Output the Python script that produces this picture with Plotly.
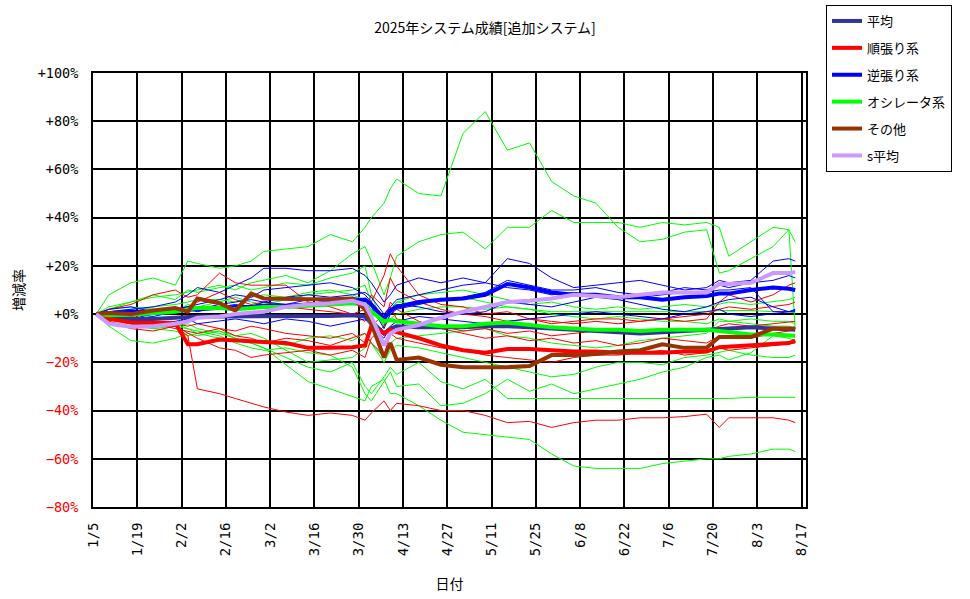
import plotly.graph_objects as go

# ---- dates (x values) ----
dates = ["2025-01-06", "2025-01-10", "2025-01-17", "2025-01-24", "2025-01-31",
         "2025-02-04", "2025-02-07", "2025-02-14", "2025-02-19", "2025-02-24",
         "2025-02-28", "2025-03-07", "2025-03-14", "2025-03-21", "2025-03-28",
         "2025-04-01", "2025-04-03", "2025-04-07", "2025-04-09", "2025-04-11",
         "2025-04-18", "2025-04-25", "2025-05-02", "2025-05-09", "2025-05-16",
         "2025-05-23", "2025-05-30", "2025-06-06", "2025-06-13", "2025-06-20",
         "2025-06-27", "2025-07-04", "2025-07-11", "2025-07-18", "2025-07-22",
         "2025-07-25", "2025-08-01", "2025-08-08", "2025-08-13", "2025-08-15"]

# ---- thick (group) series, % ----
avg_all = [0, -1.5, -2, -2, -1.5, -1, -1, -1, -1, -1,
           -1, -1.2, -1, -0.8, -0.5, -1, -3, -8, -6, -5,
           -5.5, -5.5, -5.5, -5, -5, -5.5, -6, -6.5, -7, -7.5,
           -8, -7.5, -7, -6.5, -6, -6, -5.5, -6, -6.5, -6.5]
trend = [0, -2, -3.5, -3.5, -3.7, -12.5, -12.5, -10.5, -11, -11.5,
         -11.6, -12, -14, -14, -13.7, -13, -5, -8, -6.5, -7.5,
         -10, -13, -15, -16, -14.5, -14.5, -15, -15.5, -15.5, -16,
         -16, -16, -15.5, -15.5, -13.7, -13.5, -13, -12.5, -12, -11]
contra = [0, 0.5, 1, 1, 1.5, 2, 2, 2.5, 3, 3,
          3.5, 3.5, 4, 4.5, 5.5, 6, 4, -2, 1.5, 3,
          5, 6, 6.5, 8, 12.5, 11, 9, 8, 8, 7,
          7, 6, 7, 7.5, 8.5, 8.5, 10, 11, 10.5, 10]
osc = [0, -0.5, -0.3, 0.5, 1, 2, 2.5, 2.5, 2, 2.5,
       3, 3, 3.5, 4, 4.5, 4, 1, -3, -2.5, -3,
       -4, -5, -5, -4, -3.5, -4.5, -5.5, -6, -6.5, -6.5,
       -7, -6.5, -6.5, -6.5, -7, -7.5, -8.5, -8.5, -9, -9]
other = [0, 0.5, 0, 1.5, 2.5, 1, 6.5, 4.5, 1.5, 8.5,
         6.5, 6.2, 6.2, 6.2, 6.5, 2, -4, -18, -12, -19,
         -18, -21, -22, -22, -22, -21.5, -17, -17, -16.5, -15.5,
         -15, -12.5, -14, -14, -9.5, -9.5, -9.5, -6, -6, -6]
savg = [0, -4, -5.2, -5, -4, -3, -1.5, -1, 0, 0.5,
        1, 3, 4, 4.5, 5.5, 4, -1, -13, -8, -6.5,
        -4.5, -1.5, 1, 3, 5, 5.5, 6.5, 8, 7.5, 7,
        8, 9, 9, 9, 12.5, 12.5, 13, 17, 17, 17.5]

# ---- thin (individual system) series, % ----
g1 = [0, 8, 13, 15, 12, 22, 21, 19, 20, 22,
      26, 27, 28, 33, 30, 36, 40, 46, 52, 56,
      50, 49, 75, 84, 68, 71, 55, 49, 46, 36,
      30, 31, 34, 35, 17, 18, 23, 28, 35, 30]
g2 = [0, 2, 5, 7, 8, 9, 10, 12, 10, 13,
      14, 16, 13, 18, 25, 28, 22, 8, 15, 24,
      30, 33, 34, 27, 36, 36, 43, 38, 38, 38,
      36, 38, 37, 38, 36, 24, 30, 36, 35, -6]
g3 = [0, -5, -11, -12, -10, -8, -9, -7, -10, -12,
      -14, -18, -22, -24, -20, -30, -33, -26, -22, -25,
      -20, -28, -31, -27, -35, -35, -35, -35, -35, -35,
      -35, -35, -35, -35, -35, -35, -34.5, -34.5, -34.5, -34.5]
g4 = [0, -3, -5, -6, -7, -9, -8, -10, -11, -12,
      -14, -21, -28, -31, -34, -36, -30, -27, -33, -33,
      -38, -44, -49, -50, -51, -52, -58, -63, -64, -64,
      -64, -62, -61, -60, -60, -59, -58, -56, -56, -57]
g5 = [0, -2, -4, -3, -5, -6, -7, -9, -12, -14,
      -15, -14, -16, -17, -22, -33, -36, -28, -24, -30,
      -29, -38, -37, -33, -27, -32, -29, -33, -31, -29,
      -27, -24, -22, -18, -17, -19, -16, -9, -10, -11]
g6 = [0, 1, 2, 3, 4, 5, 6, 6, 5, 7,
      8, 7, 9, 10, 8, 6, 3, -5, -2, 0,
      2, 3, 3, 2, 3, 2, 1, 1, 1, 1,
      1, 1, 1, 1, 1.5, 1.5, 1.5, 1, 1, 0.5]
g7 = [0, 2, 3, 2, 1, 4, 3, 5, 7, 5,
      4, 6, 8, 9, 10, 12, 5, -2, 2, 5,
      4, 6, 7, 5, 3, 2, 0, -1, -2, -1,
      -2, -3, -3, -4, -2, -3, -4, -5, -5, -6]
g8 = [0, -2, -4, -6, -5, -4, -6, -8, -10, -12,
      -11, -13, -10, -9, -11, -8, -12, -18, -12, -10,
      -9, -8, -7, -6, -9, -10, -12, -13, -14, -13,
      -11, -10, -9, -8, -3, -3, -2, -3, -3, -4]
g9 = [0, 3, 5, 8, 6, 10, 9, 11, 12, 10,
      11, 13, 12, 15, 17, 20, 8, -5, 0, 5,
      8, 9, 10, 8, 6, 4, 5, 3, 2, 3,
      2, 3, 4, 3, 4, 5, 4, 5, 6, 7]
g10 = [0, -1, -3, -5, -4, -6, -8, -7, -9, -8,
       -10, -15, -20, -19, -18, -14, -12, -20, -15, -13,
       -14, -16, -18, -20, -22, -24, -26, -25, -22, -20,
       -20, -21, -18, -17, -16, -15, -17, -18, -18, -17]

r1 = [0, -2, -4, -5, -5, -9, -31, -33, -35, -37,
      -38.5, -40.6, -42, -41, -42, -44, -41, -36, -40, -37,
      -38, -40, -40, -42, -45, -44.5, -47, -45, -44, -44,
      -43, -43, -42.5, -41.5, -47, -43, -43, -43, -44, -45]
r2 = [0, 2, 4, 8, 10, 7, 8, 17, 13, 12,
      12, 12, 5, 3, 0, -3, 5, 16, 25, 20,
      8, 4, 3, 0, 1, -2, -3, -4, -3, -4,
      -3, -2, -3, -2, 5, 8, 5, 8, 12, 13]
r3 = [0, -3, -6, -7, -5, -8, -10, -14, -15, -18,
      -17, -16, -15, -17, -15, -18, -10, -5, 5, 2,
      -3, -6, -8, -10, -9, -11, -10, -12, -11, -13,
      -12, -10, -11, -12, -9, -9, -10, -8, -7, -6]
r4 = [0, -1, -3, -4, -6, -7, -8, -6, -9, -10,
      -12, -10, -11, -13, -10, -8, -12, -17, -8, -10,
      -12, -14, -15, -17, -18, -19, -20, -18, -17, -17,
      -16, -15, -17, -16, -14, -15, -14, -13, -12, -12]
r5 = [0, 1, -1, 0, 2, 3, 5, 9, 6, 4,
      5, 3, 2, 1, 0, 2, 8, 3, 15, 10,
      5, 2, 0, -1, -3, -2, -4, -3, -2, -2,
      -3, -2, -1, 0, 2, 3, 2, 3, 4, 5]
r6 = [0, -2, -1, -3, -4, -5, -4, -6, -7, -5,
      -6, -8, -9, -10, -8, -12, -5, 0, 3, -2,
      -4, -5, -7, -6, -8, -7, -9, -8, -7, -6,
      -7, -8, -6, -7, -5, -4, -5, -4, -3, -3]

b1 = [0, 1, 2, 3, 5, 8, 11, 9, 12, 15,
      19, 19, 18, 18, 19, 16, 13, 5, 8, 12,
      15, 13, 15, 13, 23, 21, 15, 11, 12, 13,
      14, 12, 10, 11, 14, 13, 14, 22, 23, 22]
b2 = [0, -1, -2, 0, 2, 3, 4, 6, 8, 7,
      10, 11, 12, 13, 11, 8, 5, -3, 2, 4,
      3, 1, 0, 1, 5, 4, 3, 5, 7, 6,
      4, 2, 1, 3, 5, 6, 7, 3, 1, 1.5]
b3 = [0, 2, 3, 1, 2, 3, 2, 4, 5, 6,
      5, 7, 8, 7, 8, 9, 7, 0, 3, 6,
      8, 10, 12, 13, 11, 10, 8, 9, 8, 7,
      7, 8, 9, 9, 10, 10, 11, 1, 1, 1]
b4 = [0, -2, -3, -4, -3, -2, -4, -3, -2, -3,
      -4, -2, -3, -5, -3, -2, -5, -10, -5, -3,
      -1, -2, -3, -4, -3, -2, -1, 0, 1, 0,
      -1, -2, 0, 1, 2, 0, -1, 0, 1, 2]
b5 = [0, 1, 0, -1, 1, 2, 1, 3, 4, 3,
      5, 4, 6, 5, 7, 6, 3, -6, 0, 2,
      4, 6, 7, 9, 14, 12, 10, 10, 11, 9,
      8, 9, 11, 10, 12, 11, 13, 14, 16, 15]

# ---- tick labels ----
y_tickvals = [-80, -60, -40, -20, 0, 20, 40, 60, 80, 100]
y_ticklabels = ["−80%", "−60%", "−40%", "−20%", "+0%", "+20%", "+40%", "+60%", "+80%", "+100%"]

FONT = "Noto Sans CJK JP, sans-serif"
TICKFONT = "DejaVu Sans Mono, monospace"

fig = go.Figure()

thin_groups = [
    ("#00FF00", [g1, g2, g3, g4, g5, g6, g7, g8, g9, g10]),
    ("#FF0000", [r1, r2, r3, r4, r5, r6]),
    ("#0000FF", [b1, b2, b3, b4, b5]),
]
for color, group in thin_groups:
    for s in group:
        fig.add_trace(go.Scatter(x=dates, y=s, mode="lines",
                                 line=dict(color=color, width=1),
                                 showlegend=False, hoverinfo="skip"))

thick = [
    ("平均", avg_all, "#333399"),
    ("順張り系", trend, "#FF0000"),
    ("逆張り系", contra, "#0000FF"),
    ("オシレータ系", osc, "#00FF00"),
    ("その他", other, "#993300"),
    ("s平均", savg, "#CC99FF"),
]
for i, (name, s, color) in enumerate(thick):
    fig.add_trace(go.Scatter(x=dates, y=s, mode="lines", name=name,
                             legendgroup=f"g{i}",
                             line=dict(color=color, width=4)))

colored = []
for v, t in zip(y_tickvals, y_ticklabels):
    if v < 0:
        colored.append(f"<span style='color:#FF0000'>{t}</span>")
    else:
        colored.append(t)

fig.update_layout(
    width=970, height=599,
    margin=dict(l=93, r=164, t=73, b=92),
    paper_bgcolor="white", plot_bgcolor="white",
    font=dict(family=FONT, size=12, color="black"),
    title=dict(text="2025年システム成績[追加システム]", x=0.5, xref="container",
               xanchor="center", y=1 - 28 / 599, yref="container", yanchor="middle",
               font=dict(size=14)),
    legend=dict(xref="container", yref="container", x=826 / 970, y=1 - 5 / 599,
                xanchor="left", yanchor="top", bordercolor="black", borderwidth=1,
                bgcolor="white", tracegroupgap=7, font=dict(size=13)),
    xaxis=dict(type="date", range=["2025-01-05", "2025-08-18 10:00"],
               tick0="2025-01-05", dtick=14 * 86400000, tickformat="%-m/%-d",
               tickangle=-90, showgrid=True, gridcolor="black", gridwidth=2,
               showline=True, linecolor="black", linewidth=2, mirror=True,
               ticks="", ticklabelstandoff=8, automargin=False,
               tickfont=dict(family=TICKFONT, size=14),
               title=dict(text="日付", standoff=24, font=dict(size=14))),
    yaxis=dict(range=[-80, 100], tickvals=y_tickvals, ticktext=colored,
               showgrid=True, gridcolor="black", gridwidth=2, zeroline=False,
               showline=True, linecolor="black", linewidth=2, mirror=True,
               ticks="", ticklabelstandoff=10, automargin=False,
               tickfont=dict(family=TICKFONT, size=13.5),
               title=dict(text="増減率", standoff=10, font=dict(size=14))),
)

fig.write_html("out.html")
